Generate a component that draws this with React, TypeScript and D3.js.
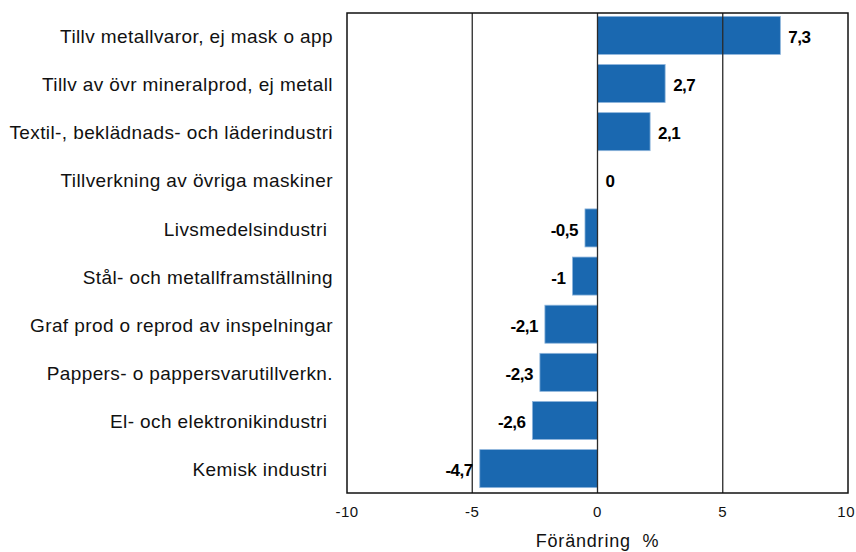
import React, { useEffect, useRef } from 'react'
import * as d3 from 'd3'

const categories = [
  'Tillv metallvaror, ej mask o app',
  'Tillv av övr mineralprod, ej metall',
  'Textil-, beklädnads- och läderindustri',
  'Tillverkning av övriga maskiner',
  'Livsmedelsindustri ',
  'Stål- och metallframställning',
  'Graf prod o reprod av inspelningar',
  'Pappers- o pappersvarutillverkn.',
  'El- och elektronikindustri ',
  'Kemisk industri ',
]
const values = [7.3, 2.7, 2.1, 0, -0.5, -1, -2.1, -2.3, -2.6, -4.7]
const xTicks = [-10, -5, 0, 5, 10]
const xTitle = 'Förändring  %'

export default function App(): React.ReactElement {
  const chartRef = useRef<HTMLDivElement>(null)

  useEffect(() => {
    document.body.style.margin = '0'
    const width = 856
    const height = 552
    const marginTop = 13
    const marginBottom = 59
    const marginLeft = 347
    const marginRight = 8

    const x = d3
      .scaleLinear()
      .domain([-10, 10])
      .range([marginLeft, width - marginRight])

    const y = d3
      .scaleBand()
      .domain(categories)
      .range([marginTop, height - marginBottom - 2])
      .paddingInner(0.21)
      .paddingOuter(0.07)

    const fmt = (v: number) => String(v).replace('.', ',')

    d3.select(chartRef.current).select('svg').remove()

    const svg = d3
      .select(chartRef.current)
      .append('svg')
      .attr('width', width)
      .attr('height', height)
      .attr('viewBox', `0 0 ${width} ${height}`)
      .style('display', 'block')
      .style('font-family', 'Liberation Sans, Arial, sans-serif')

    // bars
    const data = categories.map((c, i) => ({ c, v: values[i] }))
    svg
      .append('g')
      .selectAll('rect')
      .data(data)
      .join('rect')
      .attr('x', (d) => x(Math.min(0, d.v)))
      .attr('y', (d) => y(d.c)!)
      .attr('width', (d) => Math.abs(x(d.v) - x(0)))
      .attr('height', y.bandwidth())
      .attr('fill', '#1a68b0')
      .attr('stroke', '#8fb6dc')
      .attr('stroke-width', 0.8)

    // grid lines
    svg
      .append('g')
      .selectAll('line')
      .data(xTicks.slice(1, -1))
      .join('line')
      .attr('x1', (d) => x(d))
      .attr('x2', (d) => x(d))
      .attr('y1', marginTop)
      .attr('y2', height - marginBottom)
      .attr('stroke', '#2a2a2a')
      .attr('stroke-width', 1.3)

    // frame
    svg
      .append('rect')
      .attr('x', x(-10))
      .attr('y', marginTop)
      .attr('width', x(10) - x(-10))
      .attr('height', height - marginBottom - marginTop)
      .attr('fill', 'none')
      .attr('stroke', '#111')
      .attr('stroke-width', 1.5)

    // value labels
    svg
      .append('g')
      .style('font-weight', 'bold')
      .style('font-size', '17px')
      .style('letter-spacing', '-0.5px')
      .attr('fill', '#000')
      .selectAll('text')
      .data(data)
      .join('text')
      .attr('x', (d) => (d.v < 0 ? x(d.v) - 7 : x(d.v) + 8))
      .attr('y', (d) => y(d.c)! + y.bandwidth() / 2 + 1.5)
      .attr('dy', '0.36em')
      .attr('text-anchor', (d) => (d.v < 0 ? 'end' : 'start'))
      .text((d) => fmt(d.v))

    // category labels
    svg
      .append('g')
      .style('font-size', '19px')
      .style('letter-spacing', '0.4px')
      .attr('fill', '#111')
      .selectAll('text')
      .data(categories)
      .join('text')
      .attr('x', 333)
      .attr('y', (d) => y(d)! + y.bandwidth() / 2 + 1)
      .attr('dy', '0.35em')
      .attr('text-anchor', 'end')
      .style('white-space', 'pre')
      .text((d) => d)

    // x tick labels
    svg
      .append('g')
      .style('font-size', '15px')
      .style('letter-spacing', '0.5px')
      .attr('fill', '#111')
      .selectAll('text')
      .data(xTicks)
      .join('text')
      .attr('x', (d) => (d === 10 ? width - 1 : x(d)))
      .attr('y', height - marginBottom + 24)
      .attr('text-anchor', (d) => (d === 10 ? 'end' : 'middle'))
      .text((d) => String(d))

    svg
      .append('text')
      .attr('x', x(0))
      .attr('y', 547)
      .attr('text-anchor', 'middle')
      .style('font-size', '18px')
      .style('letter-spacing', '0.8px')
      .style('white-space', 'pre')
      .attr('fill', '#111')
      .text(xTitle)
  }, [])

  return <div ref={chartRef}></div>
}
